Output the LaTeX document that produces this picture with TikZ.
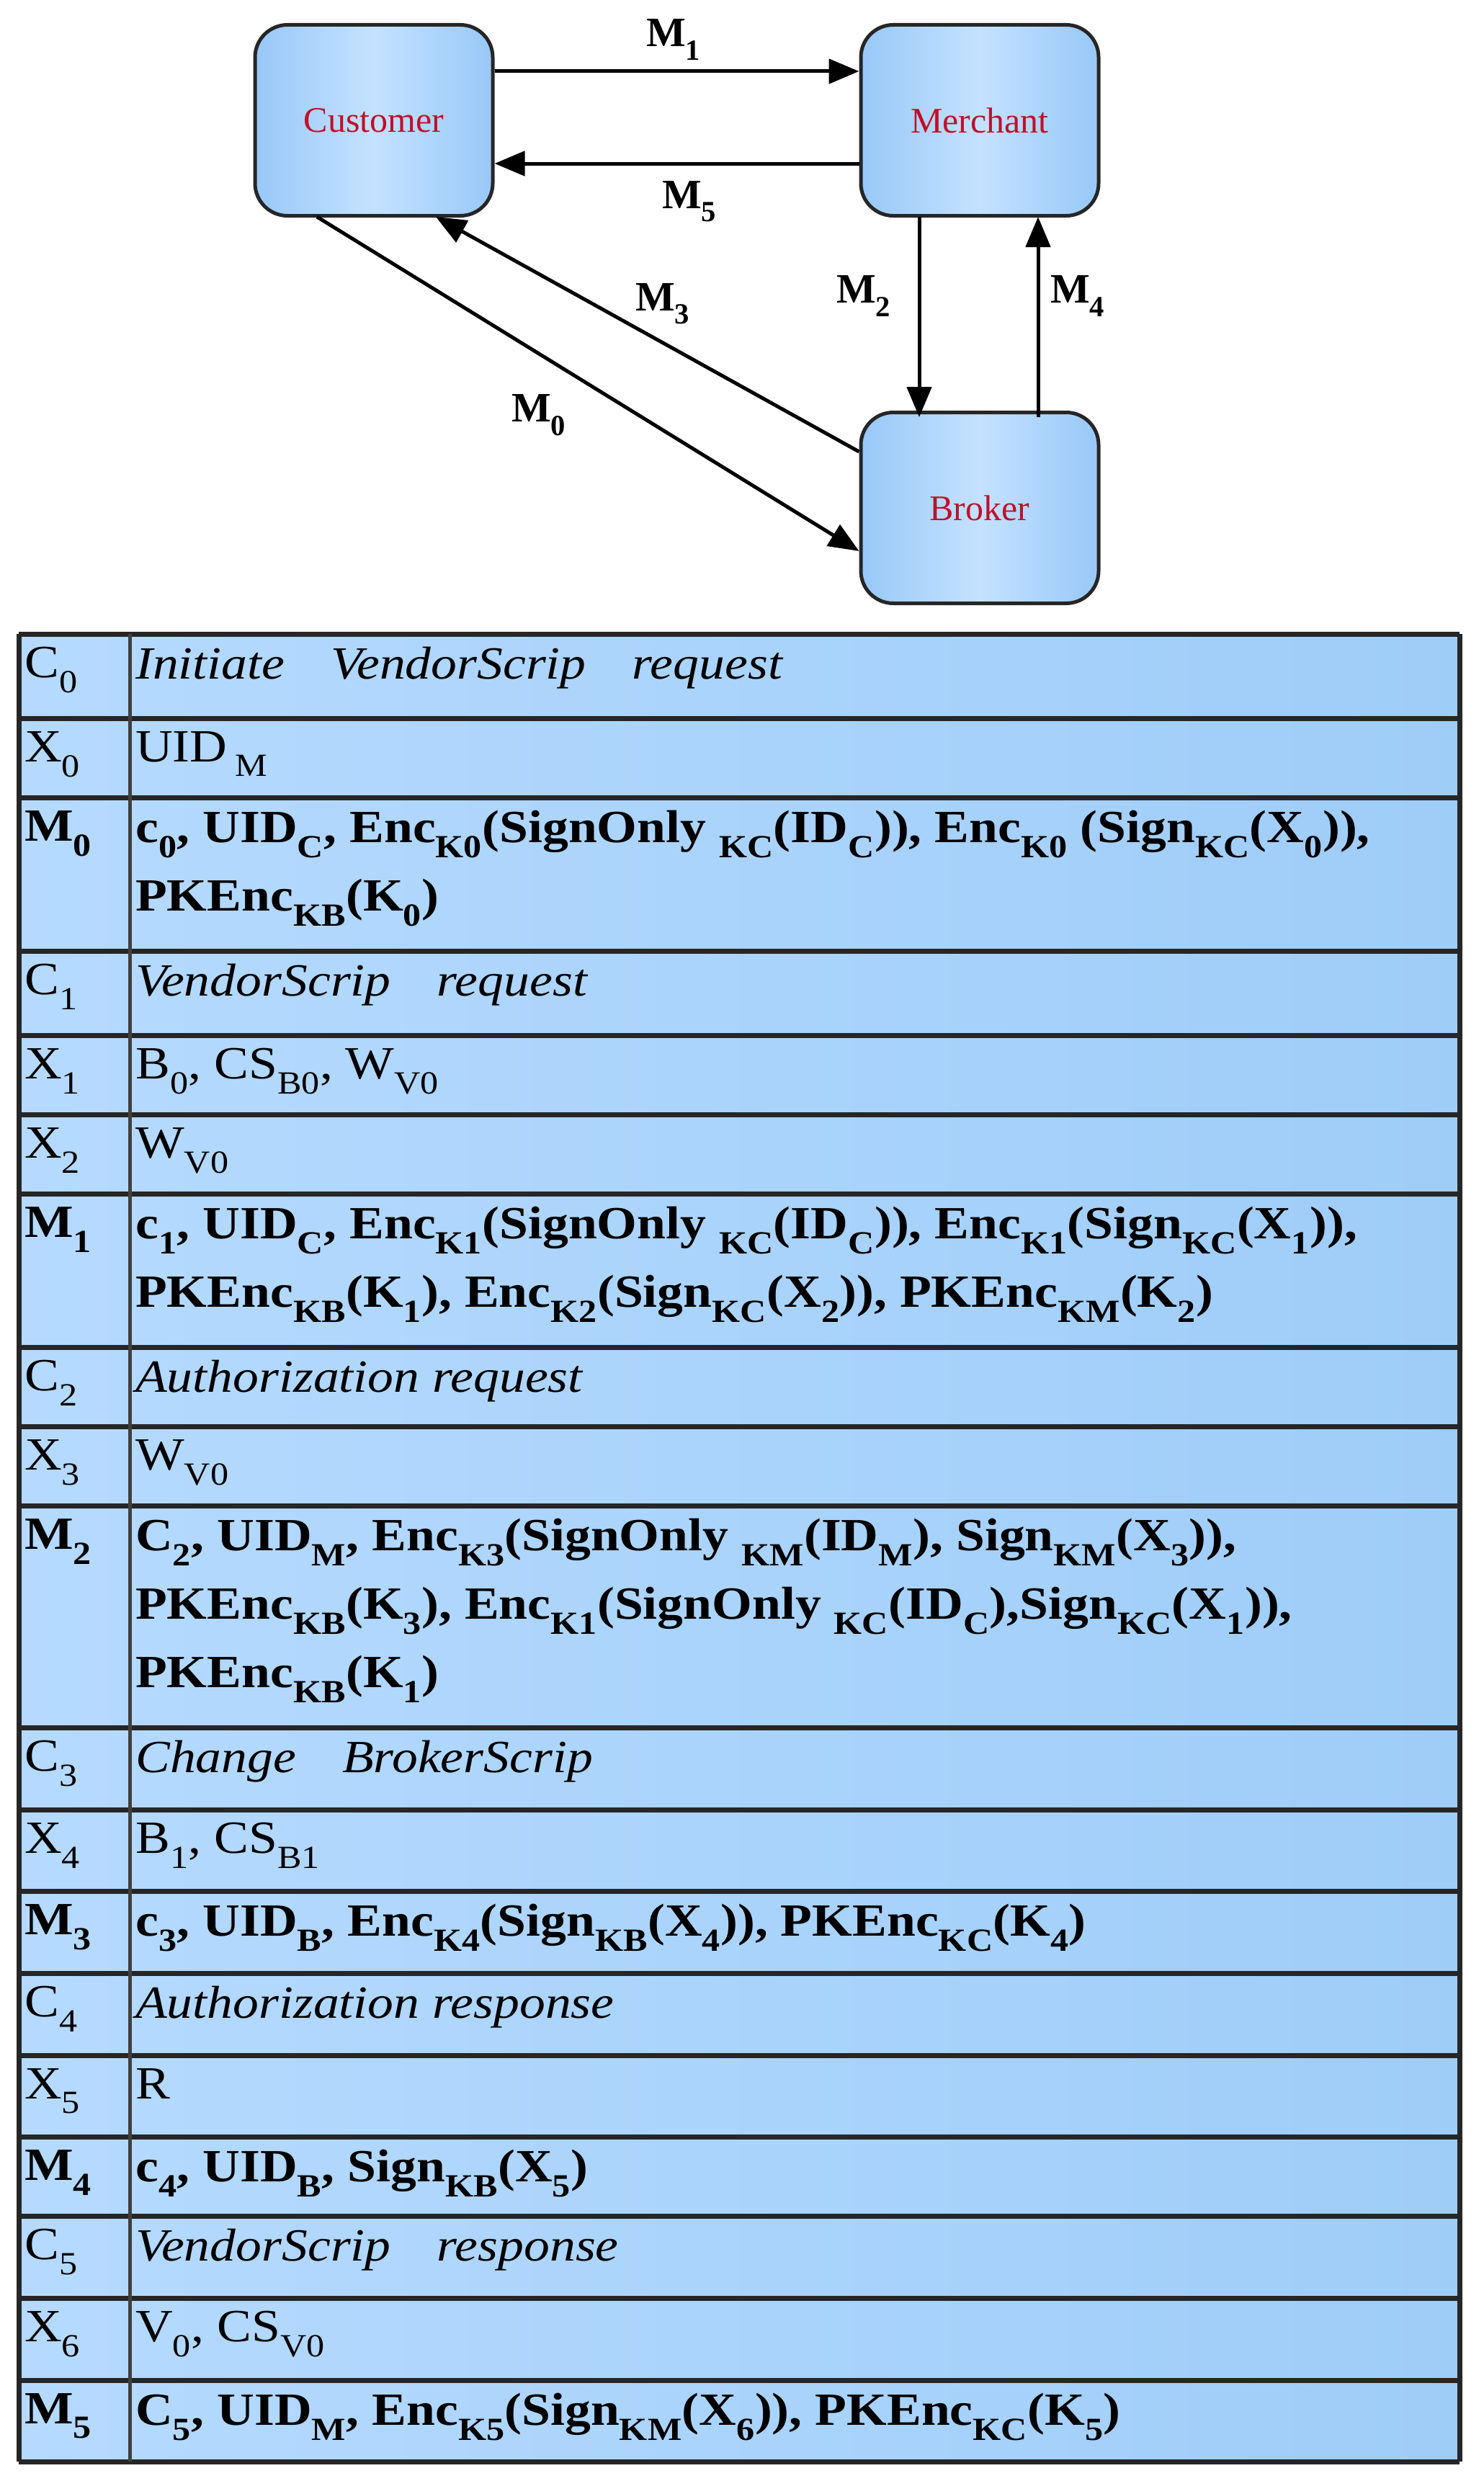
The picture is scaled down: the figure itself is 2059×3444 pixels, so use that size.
\documentclass[tikz,border=0pt]{standalone}
\usepackage{fontspec}
\setmainfont{Liberation Serif}
\newfontfamily\wideserif[FakeStretch=1.12]{Liberation Serif}
\usetikzlibrary{arrows.meta}
\definecolor{boxA}{HTML}{98C8F8}
\definecolor{boxB}{HTML}{C4E2FF}
\definecolor{tabA}{HTML}{B6DAFF}
\definecolor{tabB}{HTML}{9ECDF8}
\definecolor{lbl}{HTML}{C0102A}
\newcommand{\sbb}[1]{\textsubscript{#1}}
\tikzset{
  agent/.style={draw=black!85, line width=5pt, rounded corners=45pt, left color=boxA, right color=boxA, middle color=boxB,
    minimum width=330pt, minimum height=265pt, font=\fontsize{50}{52}\selectfont, text=lbl},
  msg/.style={line width=5pt, -{Triangle[length=42pt,width=34pt]}},
  mlab/.style={font=\fontsize{58}{58}\selectfont\bfseries},
  cell/.style={anchor=north west, align=left, inner sep=0pt},
}
\begin{document}
\begin{tikzpicture}[x=1pt,y=-1pt]
\useasboundingbox (0,0) rectangle (2059,3444);
\node[agent] (C) at (519,167) {Customer};
\node[agent] (M) at (1360,167) {Merchant};
\node[agent] (B) at (1360,705) {Broker};
\draw[msg] (C.east |- 0,99) -- (M.west |- 0,99);
\draw[msg] (M.west |- 0,227) -- (C.east |- 0,227);
\draw[msg] (440,301) -- (B.west |- 0,765);
\draw[msg] (B.west |- 0,627) -- (605,301);
\draw[msg] (1276,301) -- (1276,579);
\draw[msg] (1441,579) -- (1441,301);
\node[mlab] (l1) at (935,55) {M\sbb{1}};
\node[mlab] (l5) at (957,280) {M\sbb{5}};
\node[mlab] (l3) at (920,422) {M\sbb{3}};
\node[mlab] (l0) at (748,576) {M\sbb{0}};
\node[mlab] (l2) at (1199,411) {M\sbb{2}};
\node[mlab] (l4) at (1496,411) {M\sbb{4}};
% table
\shade[left color=tabA, right color=tabB] (26,880) rectangle (2026,3417);
\foreach \y in {880,997,1107,1320,1437,1547,1657,1870,1980,2090,2398,2512,2625,2739,2853,2966,3076,3190,3304,3417}
  \draw[line width=7pt, black!85] (26,\y) -- (2026,\y);
\draw[line width=7pt, black!85] (26,880) -- (26,3417);
\draw[line width=5pt, black!75] (180,880) -- (180,3417);
\draw[line width=7pt, black!85] (2026,880) -- (2026,3417);
\newcommand{\row}[4]{%
  \node[cell, font={\wideserif\fontsize{64}{95}\selectfont#4}] (k#1) at (34,#1+18) {#2};
  \node[cell, font={\wideserif\fontsize{64}{95}\selectfont#4}] (v#1) at (188,#1+18) {#3};}
\row{880}{C\sbb{0}}{\textit{Initiate\quad VendorScrip\quad request}}{}
\row{997}{X\sbb{0}}{UID\,\sbb{M}}{}
\row{1107}{M\sbb{0}}{c\sbb{0}, UID\sbb{C}, Enc\sbb{K0}(SignOnly\ \sbb{KC}(ID\sbb{C})), Enc\sbb{K0} (Sign\sbb{KC}(X\sbb{0})),\\PKEnc\sbb{KB}(K\sbb{0})}{\bfseries}
\row{1320}{C\sbb{1}}{\textit{VendorScrip\quad request}}{}
\row{1437}{X\sbb{1}}{B\sbb{0}, CS\sbb{B0}, W\sbb{V0}}{}
\row{1547}{X\sbb{2}}{W\sbb{V0}}{}
\row{1657}{M\sbb{1}}{c\sbb{1}, UID\sbb{C}, Enc\sbb{K1}(SignOnly\ \sbb{KC}(ID\sbb{C})), Enc\sbb{K1}(Sign\sbb{KC}(X\sbb{1})),\\PKEnc\sbb{KB}(K\sbb{1}), Enc\sbb{K2}(Sign\sbb{KC}(X\sbb{2})), PKEnc\sbb{KM}(K\sbb{2})}{\bfseries}
\row{1870}{C\sbb{2}}{\textit{Authorization request}}{}
\row{1980}{X\sbb{3}}{W\sbb{V0}}{}
\row{2090}{M\sbb{2}}{C\sbb{2}, UID\sbb{M}, Enc\sbb{K3}(SignOnly\ \sbb{KM}(ID\sbb{M}), Sign\sbb{KM}(X\sbb{3})),\\PKEnc\sbb{KB}(K\sbb{3}), Enc\sbb{K1}(SignOnly\ \sbb{KC}(ID\sbb{C}),Sign\sbb{KC}(X\sbb{1})),\\PKEnc\sbb{KB}(K\sbb{1})}{\bfseries}
\row{2398}{C\sbb{3}}{\textit{Change\quad BrokerScrip}}{}
\row{2512}{X\sbb{4}}{B\sbb{1}, CS\sbb{B1}}{}
\row{2625}{M\sbb{3}}{c\sbb{3}, UID\sbb{B}, Enc\sbb{K4}(Sign\sbb{KB}(X\sbb{4})), PKEnc\sbb{KC}(K\sbb{4})}{\bfseries}
\row{2739}{C\sbb{4}}{\textit{Authorization response}}{}
\row{2853}{X\sbb{5}}{R}{}
\row{2966}{M\sbb{4}}{c\sbb{4}, UID\sbb{B}, Sign\sbb{KB}(X\sbb{5})}{\bfseries}
\row{3076}{C\sbb{5}}{\textit{VendorScrip\quad response}}{}
\row{3190}{X\sbb{6}}{V\sbb{0}, CS\sbb{V0}}{}
\row{3304}{M\sbb{5}}{C\sbb{5}, UID\sbb{M}, Enc\sbb{K5}(Sign\sbb{KM}(X\sbb{6})), PKEnc\sbb{KC}(K\sbb{5})}{\bfseries}
\end{tikzpicture}
\end{document}
